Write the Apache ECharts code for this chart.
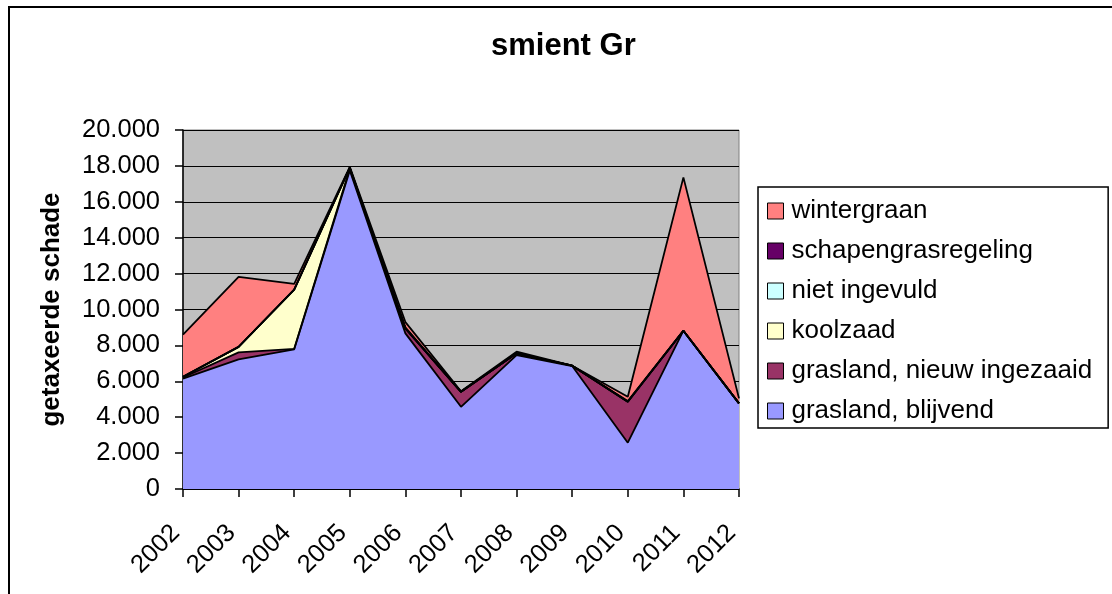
<!DOCTYPE html>
<html>
<head>
<meta charset="utf-8">
<script src="https://cdn.jsdelivr.net/npm/echarts@6/dist/echarts.min.js"></script>
<style>
  html, body { margin: 0; padding: 0; background: #fff; }
  #chart { width: 1112px; height: 594px; }
</style>
</head>
<body>
<div id="chart"></div>
<script>
const years = ['2002','2003','2004','2005','2006','2007','2008','2009','2010','2011','2012'];
const graslandBlijvend   = [6150, 7220, 7780, 17750, 8670, 4580, 7460, 6850, 2580, 8820, 4770];
const graslandNieuw      = [60, 390, 30, 100, 280, 835, 100, 20, 2280, 0, 0];
const koolzaad           = [40, 310, 3300, 50, 0, 0, 0, 0, 0, 0, 0];
const nietIngevuld       = [0, 0, 0, 0, 0, 0, 0, 0, 0, 0, 0];
const schapengrasregeling= [0, 0, 0, 0, 50, 0, 0, 0, 40, 0, 0];
const wintergraan        = [2350, 3900, 320, 50, 300, 30, 90, 0, 240, 8540, 280];
const yTicks = [0, 2000, 4000, 6000, 8000, 10000, 12000, 14000, 16000, 18000, 20000];

const seriesDefs = [
  { name: 'grasland, blijvend', data: graslandBlijvend, color: '#9999FF' },
  { name: 'grasland, nieuw ingezaaid', data: graslandNieuw, color: '#993366' },
  { name: 'koolzaad', data: koolzaad, color: '#FFFFCC' },
  { name: 'niet ingevuld', data: nietIngevuld, color: '#CCFFFF' },
  { name: 'schapengrasregeling', data: schapengrasregeling, color: '#660066' },
  { name: 'wintergraan', data: wintergraan, color: '#FF8080' }
];

const FONT = '"Liberation Sans", Arial, sans-serif';
const fmt = v => String(v).replace(/\B(?=(\d{3})+(?!\d))/g, '.');

const chart = echarts.init(document.getElementById('chart'), null, { renderer: 'canvas' });
chart.setOption({
  backgroundColor: '#ffffff',
  animation: false,
  title: {
    text: 'smient Gr',
    left: 491, top: 31, padding: 0,
    textStyle: { fontFamily: FONT, fontSize: 31, fontWeight: 'bold', color: '#000' }
  },
  graphic: [{
    type: 'rect', silent: true, z: 100,
    shape: { x: 9, y: 7, width: 1300, height: 800 },
    style: { fill: 'none', stroke: '#000', lineWidth: 2 }
  }],
  legend: {
    orient: 'vertical',
    left: 758, top: 187,
    padding: [11, 16, 4, 9],
    borderColor: '#000', borderWidth: 1.5,
    itemWidth: 16, itemHeight: 16, itemGap: 14,
    icon: 'rect',
    itemStyle: { borderColor: '#000', borderWidth: 1 },
    textStyle: { fontFamily: FONT, fontSize: 26, lineHeight: 26, color: '#000', padding: [0, 0, 0, 3] },
    data: seriesDefs.map(s => s.name).slice().reverse()
  },
  grid: {
    left: 183, right: 373, top: 130, bottom: 105,
    show: true, backgroundColor: '#C0C0C0', borderColor: '#808080', borderWidth: 1
  },
  xAxis: {
    type: 'category', data: years, boundaryGap: false,
    axisLine: { lineStyle: { color: '#000', width: 1.5 } },
    axisTick: { show: true, inside: false, length: 8, lineStyle: { color: '#000', width: 1.5 } },
    axisLabel: { rotate: 45, margin: 33, fontFamily: FONT, fontSize: 25.5, color: '#000', padding: [0, 10, 0, 0] },
    splitLine: { show: false }
  },
  yAxis: {
    type: 'value', min: 0, max: 20000, interval: 2000,
    name: 'getaxeerde schade', nameLocation: 'middle', nameRotate: 90, nameGap: 118,
    nameTextStyle: { fontFamily: FONT, fontSize: 26, fontWeight: 'bold', color: '#000' },
    axisLine: { show: true, lineStyle: { color: '#000', width: 1.5 } },
    axisTick: { show: true, inside: false, length: 8, lineStyle: { color: '#000', width: 1.5 } },
    axisLabel: { margin: 23, fontFamily: FONT, fontSize: 25.5, color: '#000', formatter: v => fmt(v) },
    splitLine: { show: true, lineStyle: { color: '#000', width: 1 } }
  },
  series: seriesDefs.map(s => ({
    name: s.name, type: 'line', stack: 'total', data: s.data,
    showSymbol: false, symbol: 'none',
    color: s.color,
    itemStyle: { color: s.color, borderColor: '#000', borderWidth: 1 },
    lineStyle: { color: '#000', width: 1.8 },
    areaStyle: { color: s.color, opacity: 1 }
  }))
});
</script>
</body>
</html>
